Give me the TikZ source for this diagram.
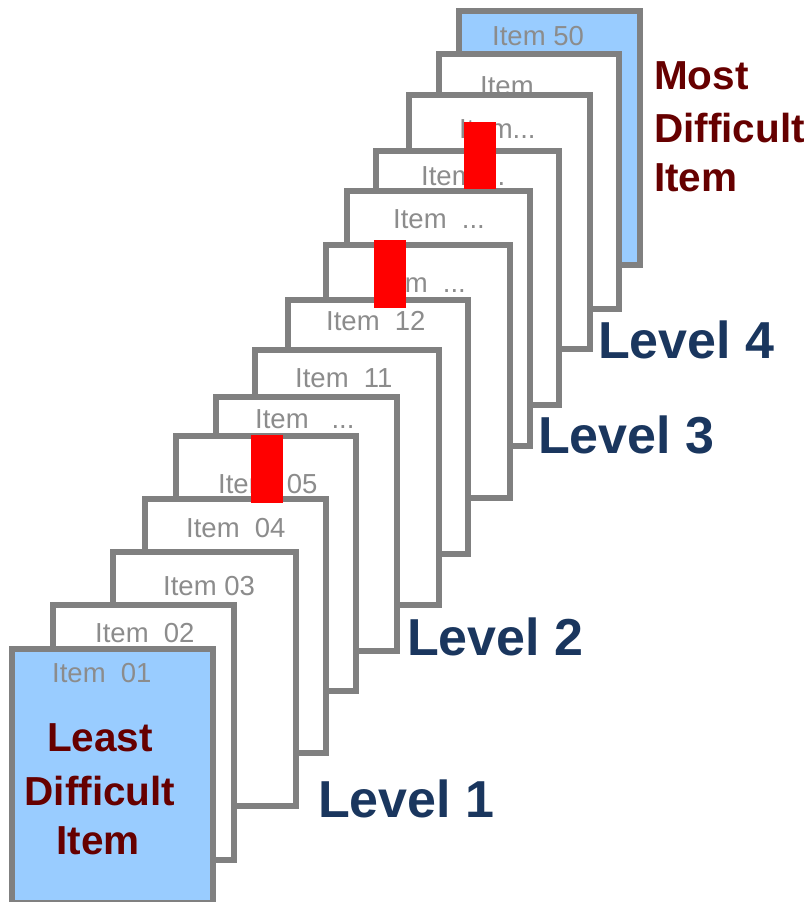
\documentclass[tikz,border=0pt]{standalone}
\usepackage{fontspec}
\setmainfont{Liberation Sans}
\definecolor{cardgray}{RGB}{128,128,128}
\definecolor{itemgray}{RGB}{140,140,140}
\definecolor{cardblue}{RGB}{153,204,255}
\definecolor{navytext}{RGB}{26,54,94}
\definecolor{maroontext}{RGB}{102,0,0}
\tikzset{
  card/.style={draw=cardgray, line width=6pt, fill=white, inner sep=0pt},
  bluecard/.style={card, fill=cardblue},
  itemlbl/.style={font=\fontsize{27.5}{30}\selectfont, text=itemgray, inner sep=0pt, anchor=base west},
  levellbl/.style={font=\fontsize{52}{60}\selectfont\bfseries, text=navytext, inner sep=0pt, anchor=base west},
  difflbl/.style={font=\fontsize{40.5}{48}\selectfont\bfseries, text=maroontext, inner sep=0pt},
  redbar/.style={fill=red, draw=none, inner sep=0pt, minimum width=32pt, minimum height=68pt}
}
\begin{document}
\begin{tikzpicture}[x=1pt,y=-1pt]
\useasboundingbox (0,0) rectangle (808,902);
\clip (0,0) rectangle (808,902);
% cards, back to front
\node[bluecard, minimum width=181pt, minimum height=254pt] (c14) at (549.5,138) {};
\node[itemlbl] (t14) at (492,45) {Item 50};
\node[card, minimum width=180pt, minimum height=255pt] (c13) at (529,181.5) {};
\node[itemlbl] (t13) at (480,95) {Item};
\node[card, minimum width=181pt, minimum height=254pt] (c12) at (499.5,222) {};
\node[itemlbl] (t12) at (459,138) {Item...};
\node[card, minimum width=183pt, minimum height=254pt] (c11) at (467.5,278) {};
\node[itemlbl] (t11) at (421,185) {Item ...};
\node[card, minimum width=183pt, minimum height=255pt] (c10) at (438.5,318.5) {};
\node[itemlbl] (t10) at (393,228) {Item ~...};
\node[card, minimum width=184pt, minimum height=253pt] (c9) at (418,371.5) {};
\node[itemlbl] (t9) at (374,292) {Item ~...};
\node[card, minimum width=180pt, minimum height=254pt] (c8) at (378,427) {};
\node[itemlbl] (t8) at (326,330) {Item~~12};
\node[card, minimum width=184pt, minimum height=255pt] (c7) at (347,477.5) {};
\node[itemlbl] (t7) at (295,387) {Item~~11};
\node[card, minimum width=181pt, minimum height=254pt] (c6) at (306.5,524) {};
\node[itemlbl] (t6) at (255,428) {Item~~~...};
\node[card, minimum width=180pt, minimum height=255pt] (c5) at (266,563.5) {};
\node[itemlbl] (t5) at (218,493) {Item~~05};
\node[card, minimum width=181pt, minimum height=254pt] (c4) at (235.5,626) {};
\node[itemlbl] (t4) at (186,537) {Item~~04};
\node[card, minimum width=183pt, minimum height=254pt] (c3) at (204.5,679) {};
\node[itemlbl] (t3) at (163,595) {Item 03};
\node[card, minimum width=181pt, minimum height=255pt] (c2) at (143.5,732.5) {};
\node[itemlbl] (t2) at (95,642) {Item~~02};
\node[bluecard, minimum width=201pt, minimum height=254pt] (c1) at (112.5,776) {};
\node[itemlbl] (t1) at (52,682) {Item~~01};
% least difficult
\node[difflbl, anchor=base] (ld1) at (100,751) {Least};
\node[difflbl, anchor=base] (ld2) at (100,805) {Difficult};
\node[difflbl, anchor=base] (ld3) at (98,854) {Item};
% red bars
\node[redbar] (r1) at (267,469) {};
\node[redbar] (r2) at (390,274) {};
\node[redbar, minimum height=67pt] (r3) at (480,155.5) {};
% levels
\node[levellbl] (l1) at (318,817) {Level 1};
\node[levellbl] (l2) at (407,655) {Level 2};
\node[levellbl] (l3) at (538,453) {Level 3};
\node[levellbl] (l4) at (598,358) {Level 4};
% most difficult
\node[difflbl, anchor=base west] (md1) at (654,89) {Most};
\node[difflbl, anchor=base west] (md2) at (654,142) {Difficult};
\node[difflbl, anchor=base west] (md3) at (654,191) {Item};
\end{tikzpicture}
\end{document}
